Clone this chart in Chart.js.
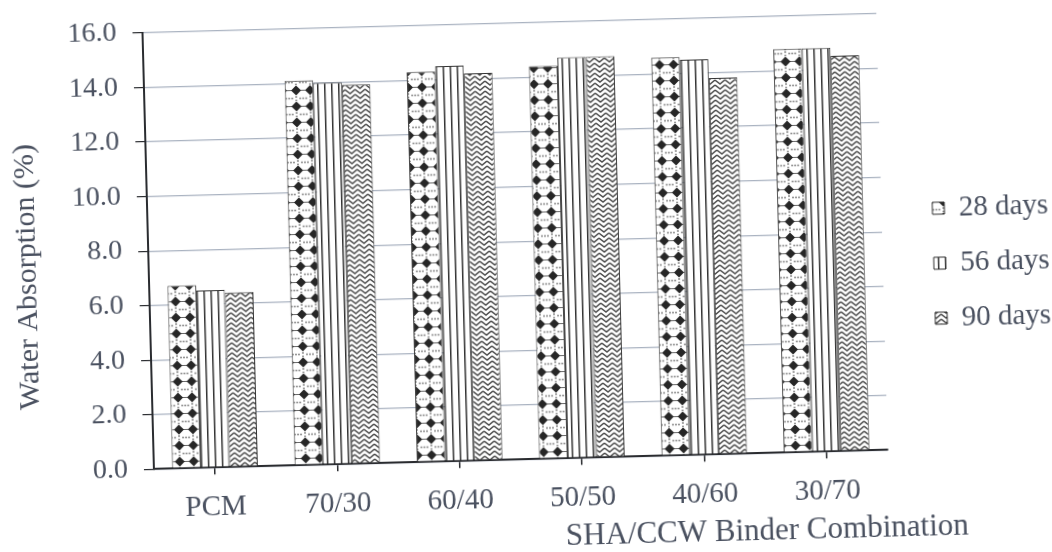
<!DOCTYPE html>
<html>
<head>
<meta charset="utf-8">
<script src="https://cdn.jsdelivr.net/npm/chart.js@4.4.1/dist/chart.umd.min.js"></script>
<style>
  html, body { margin: 0; padding: 0; background: #fff; overflow: hidden; }
  /* the scanned figure is slightly tilted */
  #wrap { width: 1052px; height: 552px; transform: rotate(-1.5deg); transform-origin: 50% 50%; }
</style>
</head>
<body>
<div id="wrap"><canvas id="absorptionChart"></canvas></div>
<script>
const categories = ['PCM', '70/30', '60/40', '50/50', '40/60', '30/70'];
const days28 = [6.7, 14.1, 14.3, 14.4, 14.6, 14.8];
const days56 = [6.5, 14.0, 14.5, 14.7, 14.5, 14.8];
const days90 = [6.4, 13.9, 14.2, 14.7, 13.8, 14.5];
const seriesNames = ['28 days', '56 days', '90 days'];
const yTicks = [0, 2, 4, 6, 8, 10, 12, 14, 16];

const textColor = '#4a5160';
const axisColor = '#2a2c30';
const gridColor = '#aab3c1';
const serif = 'Liberation Serif';

const canvas = document.getElementById('absorptionChart');
const ctx = canvas.getContext('2d');

function makePattern(w, h, draw) {
    const tile = document.createElement('canvas');
    tile.width = w;
    tile.height = h;
    const g = tile.getContext('2d');
    g.fillStyle = '#fff';
    g.fillRect(0, 0, w, h);
    draw(g);
    return ctx.createPattern(tile, 'repeat');
}

// diamonds on a dotted ground
const diamondPattern = makePattern(14, 16, g => {
    g.strokeStyle = '#666';
    g.lineWidth = 1;
    g.beginPath();
    g.moveTo(0, 4.5);
    g.lineTo(14, 4.5);
    g.stroke();
    g.fillStyle = '#262626';
    g.beginPath();
    g.moveTo(7, -0.5);
    g.lineTo(12, 4.5);
    g.lineTo(7, 9.5);
    g.lineTo(2, 4.5);
    g.closePath();
    g.fill();
    g.fillStyle = '#8a8a8a';
    [[3, 12.5], [11, 12.5], [7, 11], [7, 14.5], [0, 12.5], [14, 12.5]].forEach(([x, y]) => {
        g.beginPath();
        g.arc(x, y, 1, 0, Math.PI * 2);
        g.fill();
    });
});

// vertical lines
const linePattern = makePattern(7, 4, g => {
    g.fillStyle = '#333';
    g.fillRect(0, 0, 1.5, 4);
});

// woven zigzag
const weavePattern = makePattern(10, 10, g => {
    g.strokeStyle = '#4a4a4a';
    g.lineWidth = 1.4;
    g.beginPath();
    for (let y = -5; y <= 15; y += 5) {
        g.moveTo(0, y);
        g.lineTo(5, y + 4);
        g.lineTo(10, y);
    }
    g.stroke();
});

const legendPlace = {
    id: 'legendPlace',
    afterLayout(chart) {
        const lg = chart.legend;
        const pad = lg.options.labels.padding;
        const dx = 934 - pad - lg.left;
        const dy = 219 - 14.5 - pad - lg.top;
        lg.left += dx;
        lg.right += dx;
        lg.top += dy;
        lg.bottom += dy;
    }
};

const axisTitles = {
    id: 'axisTitles',
    afterDraw(chart) {
        const c = chart.ctx;
        c.save();
        c.fillStyle = textColor;
        c.textBaseline = 'middle';
        c.font = '31px "' + serif + '"';
        c.textAlign = 'right';
        c.fillText('SHA/CCW Binder Combination', 962, 538);
        c.translate(28, 264);
        c.rotate(-Math.PI / 2);
        c.textAlign = 'center';
        c.font = '30px "' + serif + '"';
        c.fillText('Water Absorption (%)', 0, 0);
        c.restore();
    }
};

const chartConfig = {
    type: 'bar',
    data: {
        labels: categories,
        datasets: [
            { label: seriesNames[0], data: days28, backgroundColor: diamondPattern },
            { label: seriesNames[1], data: days56, backgroundColor: linePattern },
            { label: seriesNames[2], data: days90, backgroundColor: weavePattern }
        ].map(ds => Object.assign(ds, { borderColor: '#333', borderWidth: 1 }))
    },
    options: {
        responsive: true,
        maintainAspectRatio: false,
        animation: false,
        datasets: {
            bar: { categoryPercentage: 0.7, barPercentage: 1.0 }
        },
        layout: {
            padding: { top: 23, left: 58, right: 17, bottom: 19 }
        },
        scales: {
            x: {
                grid: {
                    display: true,
                    drawOnChartArea: false,
                    offset: false,
                    tickLength: 7,
                    color: axisColor,
                    lineWidth: 1.5
                },
                border: { display: true, color: axisColor, width: 2 },
                ticks: {
                    color: textColor,
                    padding: 16,
                    font: { family: serif, size: 29 }
                }
            },
            y: {
                min: 0,
                max: 16,
                afterBuildTicks: scale => {
                    scale.ticks = yTicks.map(v => ({ value: v }));
                },
                afterFit: scale => {
                    scale.paddingTop = 0;
                    scale.paddingBottom = 0;
                },
                grid: {
                    color: gridColor,
                    lineWidth: 1.2,
                    tickColor: axisColor,
                    tickLength: 10
                },
                border: { display: true, color: axisColor, width: 2 },
                ticks: {
                    color: textColor,
                    padding: 16,
                    font: { family: serif, size: 28 },
                    callback: v => v.toFixed(1)
                }
            }
        },
        plugins: {
            legend: {
                position: 'right',
                align: 'start',
                labels: {
                    color: textColor,
                    boxWidth: 12,
                    boxHeight: 12,
                    padding: 26,
                    font: { family: serif, size: 29 }
                }
            },
            tooltip: { enabled: false }
        }
    },
    plugins: [legendPlace, axisTitles]
};

new Chart(ctx, chartConfig);
</script>
</body>
</html>
